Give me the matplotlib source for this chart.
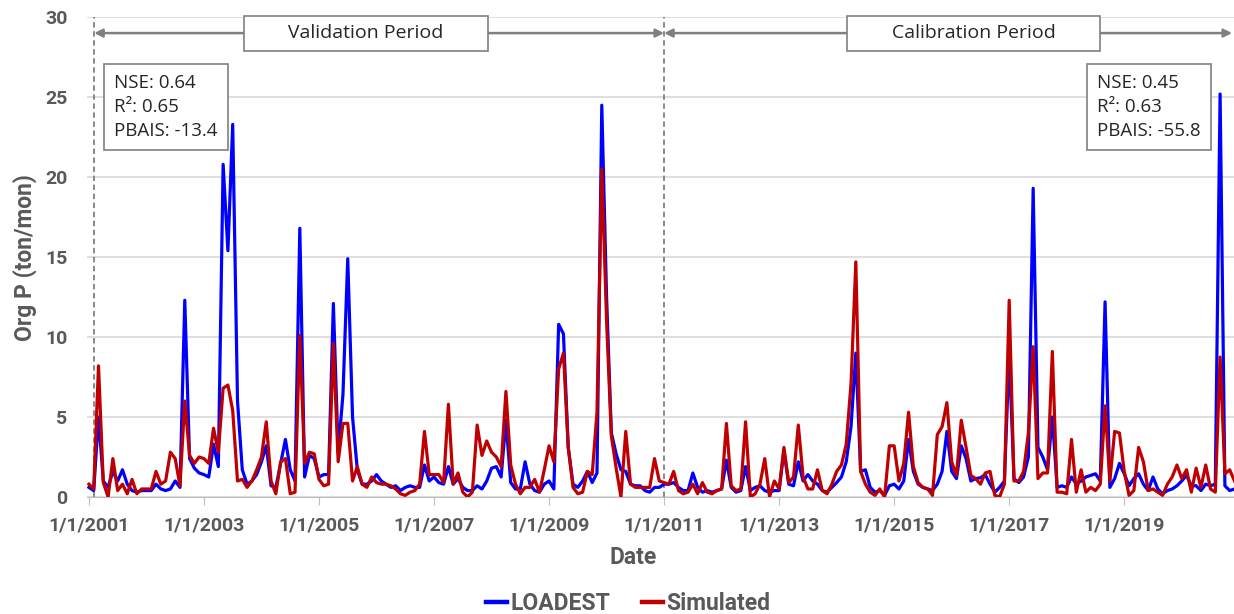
# Monthly organic P loads: LOADEST vs simulated, validation and calibration periods
import matplotlib.pyplot as plt

# monthly values, Jan 2001 .. Dec 2020 (ton/mon)
loadest = [
    0.6, 0.4, 5.0, 1.0, 0.6, 1.6, 1.0, 1.7, 0.8, 0.4, 0.3, 0.4,
    0.4, 0.4, 0.8, 0.5, 0.4, 0.5, 1.0, 0.6, 12.3, 2.4, 1.8, 1.5,
    1.4, 1.25, 3.3, 1.9, 20.8, 15.4, 23.3, 6.0, 1.7, 0.8, 1.0, 1.4,
    2.2, 3.2, 0.7, 0.6, 2.1, 3.6, 1.7, 1.0, 16.8, 1.25, 2.6, 2.4,
    1.25, 1.4, 1.4, 12.1, 2.8, 6.4, 14.9, 5.0, 1.7, 0.8, 0.8, 1.0,
    1.4, 1.0, 0.8, 0.6, 0.7, 0.4, 0.6, 0.7, 0.6, 0.6, 2.0, 1.0,
    1.25, 0.9, 0.8, 1.9, 0.8, 1.15, 0.6, 0.4, 0.4, 0.7, 0.5, 1.0,
    1.8, 1.9, 1.25, 4.8, 0.9, 0.5, 0.5, 2.2, 0.8, 0.4, 0.3, 0.8,
    1.0, 0.5, 10.8, 10.2, 3.1, 0.8, 0.6, 1.0, 1.6, 0.9, 1.5, 24.5,
    12.5, 4.0, 2.7, 1.7, 1.6, 0.8, 0.7, 0.7, 0.4, 0.3, 0.6, 0.6,
    0.8, 0.8, 0.9, 0.6, 0.4, 0.4, 1.5, 0.6, 0.3, 0.4, 0.3, 0.4,
    0.5, 2.3, 0.6, 0.3, 0.4, 1.9, 0.4, 0.6, 0.7, 0.4, 0.3, 0.4,
    0.4, 2.9, 0.8, 0.7, 2.2, 1.0, 1.4, 1.0, 0.8, 0.4, 0.3, 0.6,
    0.9, 1.25, 2.2, 4.4, 9.0, 1.6, 1.7, 0.6, 0.3, 0.4, 0.1, 0.7,
    0.8, 0.5, 1.0, 3.6, 1.6, 0.8, 0.6, 0.5, 0.4, 0.8, 1.6, 4.1,
    1.6, 1.15, 3.2, 2.4, 1.0, 1.15, 1.2, 1.4, 0.8, 0.3, 0.6, 1.0,
    9.0, 1.15, 0.9, 1.25, 2.5, 19.3, 3.1, 2.5, 1.7, 5.0, 0.6, 0.7,
    0.6, 1.25, 0.8, 1.0, 1.25, 1.35, 1.45, 1.0, 12.2, 0.6, 1.15, 2.1,
    1.45, 0.7, 1.15, 1.45, 0.8, 0.4, 1.25, 0.5, 0.2, 0.4, 0.5, 0.7,
    1.0, 1.35, 0.7, 0.7, 0.4, 0.8, 0.7, 0.8, 25.2, 0.7, 0.4, 0.5,
]
simulated = [
    0.8, 0.5, 8.2, 0.9, 0.0, 2.4, 0.4, 0.8, 0.2, 1.1, 0.2, 0.5,
    0.5, 0.5, 1.6, 0.8, 1.0, 2.8, 2.4, 0.7, 6.0, 2.6, 2.1, 2.5,
    2.4, 2.1, 4.3, 2.8, 6.8, 7.0, 5.4, 1.0, 1.1, 0.6, 1.0, 1.7,
    2.5, 4.7, 1.0, 0.2, 2.2, 2.4, 0.2, 0.3, 10.1, 2.1, 2.8, 2.7,
    1.1, 0.7, 0.8, 9.6, 2.2, 4.6, 4.6, 1.0, 1.9, 0.8, 0.6, 1.25,
    0.9, 0.8, 0.8, 0.7, 0.5, 0.2, 0.1, 0.3, 0.4, 0.8, 4.1, 1.4,
    1.4, 1.4, 0.9, 5.8, 0.8, 1.5, 0.3, 0.0, 0.3, 4.5, 2.6, 3.5,
    2.8, 2.5, 1.9, 6.6, 2.0, 0.8, 0.2, 0.6, 0.6, 1.1, 0.3, 1.7,
    3.2, 2.2, 8.0, 9.0, 3.1, 0.6, 0.2, 0.3, 1.6, 1.4, 5.3, 20.5,
    11.0, 3.8, 1.8, 0.0, 4.1, 0.8, 0.6, 0.6, 0.6, 0.6, 2.4, 1.0,
    0.9, 0.8, 1.6, 0.4, 0.2, 0.3, 0.8, 0.2, 0.9, 0.3, 0.2, 0.4,
    0.5, 4.6, 0.7, 0.4, 0.5, 4.7, 0.0, 0.2, 0.8, 2.4, 0.0, 1.0,
    0.5, 3.1, 0.9, 1.25, 4.5, 1.25, 0.5, 0.5, 1.7, 0.4, 0.2, 0.8,
    1.6, 2.0, 3.3, 7.1, 14.7, 1.6, 0.8, 0.3, 0.1, 0.5, 0.0, 3.2,
    3.2, 1.0, 2.1, 5.3, 1.9, 0.9, 0.6, 0.5, 0.1, 3.9, 4.4, 5.9,
    2.2, 1.35, 4.8, 3.1, 1.35, 1.15, 0.8, 1.5, 1.6, 0.1, 0.0, 0.8,
    12.3, 1.0, 1.0, 1.6, 4.0, 9.4, 1.15, 1.5, 1.5, 9.1, 0.3, 0.3,
    0.2, 3.6, 0.3, 1.7, 0.3, 0.6, 0.4, 0.8, 5.7, 1.0, 4.1, 4.0,
    1.6, 0.1, 0.4, 3.1, 2.2, 0.4, 0.5, 0.3, 0.1, 0.8, 1.25, 2.0,
    1.15, 1.7, 0.3, 1.8, 0.6, 2.0, 0.5, 0.3, 8.75, 1.45, 1.7, 1.0,
]
tick_labels = ['1/1/2001', '1/1/2003', '1/1/2005', '1/1/2007', '1/1/2009',
               '1/1/2011', '1/1/2013', '1/1/2015', '1/1/2017', '1/1/2019']
validation_stats = ['NSE: 0.64', 'R\u00b2: 0.65', 'PBAIS: -13.4']
calibration_stats = ['NSE: 0.45', 'R\u00b2: 0.63', 'PBAIS: -55.8']

GRAY = '#595959'
TITLE_FONT = dict(family='Roboto', weight='bold', size=16.5)

months = list(range(len(loadest)))

fig = plt.figure(figsize=(12.34, 6.14), dpi=100)
ax = fig.add_axes([0.0705, 0.1906, 0.9295, 0.7813])

ax.plot(months, loadest, color='#0000FF', lw=2.3, label='LOADEST', zorder=3)
ax.plot(months, simulated, color='#C00000', lw=2.3, label='Simulated', zorder=4)

ax.set_ylim(0, 30)
ax.set_xlim(-0.4, 238.9)
ax.set_yticks(range(0, 31, 5))
ax.set_xticks(range(0, 217, 24))
ax.set_xticklabels(tick_labels)
ax.grid(axis='y', color='#D9D9D9', lw=1.2)
ax.set_axisbelow(True)
for side in ['left', 'top', 'right']:
    ax.spines[side].set_visible(False)
ax.spines['bottom'].set_color('#BFBFBF')
ax.tick_params(axis='y', length=0, pad=14, labelcolor=GRAY)
ax.tick_params(axis='x', length=6, color='#BFBFBF', pad=8, labelcolor=GRAY)
for lab in ax.get_xticklabels() + ax.get_yticklabels():
    lab.set_fontfamily('Roboto')
    lab.set_fontweight('bold')
    lab.set_fontsize(14)

ax.set_ylabel('Org P (ton/mon)', color=GRAY, labelpad=6, fontdict=TITLE_FONT)
ax.set_xlabel('Date', color=GRAY, labelpad=8, fontdict=TITLE_FONT, x=0.476)

# period separators and arrows
for xv in [1.1, 120]:
    ax.axvline(xv, color='#808080', ls='--', lw=1.3, dashes=(3, 2), zorder=2)
arrow = dict(arrowstyle='<|-|>', color='#808080', lw=1.8, mutation_scale=12,
             shrinkA=0, shrinkB=0)
ax.annotate('', xy=(120, 0.967), xytext=(1.1, 0.967),
            xycoords=('data', 'axes fraction'), arrowprops=arrow)
ax.annotate('', xy=(238.5, 0.967), xytext=(120, 0.967),
            xycoords=('data', 'axes fraction'), arrowprops=arrow)
period_box = dict(boxstyle='square,pad=0.44', fc='white', ec='#808080', lw=1.2)
pad = ' ' * 7
ax.text(57.8, 0.967, pad + 'Validation Period' + pad, transform=ax.get_xaxis_transform(),
        ha='center', va='center', fontsize=14, family='Open Sans',
        color='#262626', bbox=period_box, zorder=6)
ax.text(184.6, 0.967, pad + 'Calibration Period' + pad, transform=ax.get_xaxis_transform(),
        ha='center', va='center', fontsize=14, family='Open Sans',
        color='#262626', bbox=period_box, zorder=6)

# statistics boxes
box = dict(boxstyle='square,pad=0.55', fc='white', ec='#808080', lw=1.2)
ax.text(0.0235, 0.881, '\n'.join(validation_stats), transform=ax.transAxes,
        ha='left', va='top', fontsize=13.5, family='Open Sans', color='#262626',
        linespacing=1.42, bbox=box, zorder=6)
ax.text(0.8805, 0.881, '\n'.join(calibration_stats), transform=ax.transAxes,
        ha='left', va='top', fontsize=13.5, family='Open Sans', color='#262626',
        linespacing=1.42, bbox=box, zorder=6)

leg = fig.legend(loc='lower center', bbox_to_anchor=(0.509, -0.035), ncol=2,
                 frameon=False, handlelength=0.9, handletextpad=0.15,
                 columnspacing=1.4, prop=TITLE_FONT)
for t in leg.get_texts():
    t.set_color(GRAY)
for h in leg.get_lines():
    h.set_linewidth(3.2)

fig.savefig('out.png', dpi=100)
